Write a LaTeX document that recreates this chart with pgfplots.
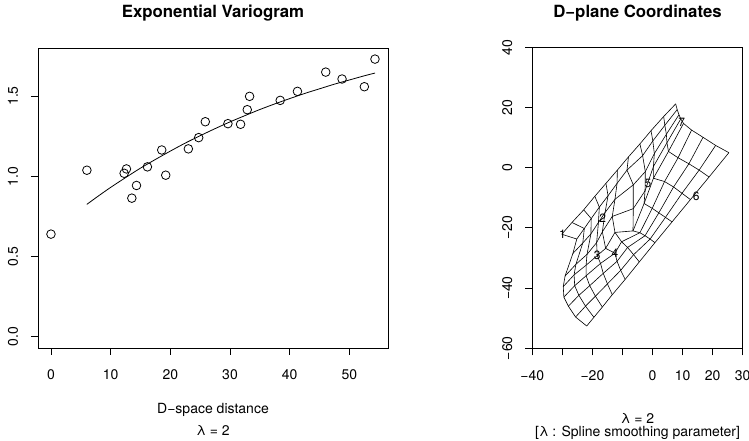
\documentclass[border=0pt]{standalone}
\usepackage{fontspec}
\setmainfont{TeX Gyre Heros}
\usepackage{pgfplots}
\pgfplotsset{compat=1.18}
\begin{document}
\begin{tikzpicture}[font=\fontsize{14}{17}\selectfont]
\pgfplotsset{
  rstyle/.style={
    scale only axis, anchor=south west,
    axis line style={line width=0.8pt},
    tick align=outside, major tick length=7pt, tick pos=left,
    tick style={black, line width=0.8pt},
    yticklabel style={xshift=-18pt, rotate=90, anchor=center},
    xticklabel style={anchor=center, yshift=-20pt},
  },
  ml/.style={black, solid, no marks, line width=0.6pt},
}
% ---------------- left panel ----------------
\begin{axis}[rstyle,
  at={(38pt,93pt)}, width=350pt, height=300pt,
  xmin=-2.172, xmax=56.472, ymin=-0.0692, ymax=1.7992,
  xtick={0,10,20,30,40,50}, xticklabels={0,10,20,30,40,50},
  ytick={0,0.5,1,1.5}, yticklabels={0.0,0.5,1.0,1.5},
]
\addplot[only marks, mark=o, mark size=4.3pt, mark options={line width=0.8pt}, black] coordinates {
(0.00,0.640) (6.02,1.038) (12.26,1.019) (12.65,1.046) (13.55,0.864) (14.33,0.943)
(16.16,1.059) (18.56,1.164) (19.23,1.007) (23.02,1.171) (24.75,1.241) (25.86,1.340)
(29.65,1.328) (31.77,1.324) (32.89,1.415) (33.28,1.498) (38.41,1.473) (41.30,1.529)
(46.04,1.649) (48.77,1.606) (52.51,1.558) (54.29,1.730)
};
\addplot[no marks, black, line width=0.8pt, smooth] coordinates {
(6,0.825) (8,0.879) (10,0.931) (12.5,0.992) (15,1.051) (17.5,1.105) (20,1.157)
(22.5,1.207) (25,1.253) (27.5,1.297) (30,1.339) (32.5,1.378) (35,1.416)
(37.5,1.451) (40,1.484) (42.5,1.516) (45,1.545) (47.5,1.574) (50,1.600)
(52.5,1.626) (54.3,1.643)
};
\end{axis}
% ---------------- right panel ----------------
\begin{axis}[rstyle,
  at={(532.3pt,92.7pt)}, width=210.4pt, height=301pt,
  xmin=-40, xmax=30, ymin=-60, ymax=40,
  xtick={-40,-30,-20,-10,0,10,20,30}, xticklabels={−40,,−20,,0,10,20,30},
  ytick={-60,-40,-20,0,20,40}, yticklabels={−60,−40,−20,0,20,40},
]
% family B lines
\addplot[ml] coordinates {(-30.2,-22.1) (-25.2,-23.7) (-26.5,-28.5) (-29.1,-36.0) (-29.7,-39.5) (-29.5,-43.0) (-28.0,-46.0) (-25.6,-49.6) (-21.9,-52.6)};
\addplot[ml] coordinates {(-26.8,-18.2) (-22.7,-20.2) (-23.2,-25.0) (-25.5,-32.1) (-26.1,-35.6) (-25.9,-39.2) (-24.5,-42.4) (-22.3,-46.0) (-19.5,-49.7)};
\addplot[ml] coordinates {(-22.9,-14.0) (-20.4,-16.9) (-20.5,-22.0) (-21.8,-28.8) (-22.1,-32.4) (-22.1,-35.9) (-20.9,-39.2) (-19.0,-42.7) (-16.7,-46.3)};
\addplot[ml] coordinates {(-19.2,-9.5) (-17.7,-13.1) (-18.0,-18.2) (-18.6,-24.9) (-18.4,-29.2) (-17.3,-31.8) (-16.4,-35.1) (-15.0,-38.6) (-13.4,-42.2)};
\addplot[ml] coordinates {(-15.5,-5.2) (-14.8,-9.3) (-15.8,-14.9) (-16.7,-21.3) (-15.6,-26.8) (-12.5,-28.4) (-11.8,-31.1) (-10.6,-34.1) (-9.1,-37.1)};
\addplot[ml] coordinates {(-11.7,-0.8) (-11.8,-5.2) (-12.5,-10.5) (-13.4,-16.2) (-12.5,-21.5) (-10.3,-24.6) (-8.3,-26.5) (-6.3,-28.9) (-4.4,-31.3)};
\addplot[ml] coordinates {(-8.0,3.6) (-8.5,-0.8) (-6.4,-5.7) (-6.4,-13.6) (-6.5,-21.0) (-4.2,-21.6) (-2.5,-22.6) (-0.8,-23.7) (0.8,-24.9)};
\addplot[ml] coordinates {(-4.2,7.9) (-3.3,4.0) (-2.4,-1.3) (-2.5,-7.7) (-2.8,-11.9) (-0.1,-13.5) (2.1,-15.0) (4.3,-16.5) (6.5,-18.0)};
\addplot[ml] coordinates {(-0.5,12.3) (0.1,8.9) (0.6,4.7) (0.3,0.4) (0.3,-3.5) (4.0,-4.6) (7.0,-6.4) (9.8,-8.5) (12.6,-10.6)};
\addplot[ml] coordinates {(3.7,17.0) (4.1,14.1) (4.6,11.1) (4.8,8.3) (5.3,5.4) (8.5,3.3) (12.1,1.3) (15.5,-0.8) (18.8,-3.1)};
\addplot[ml] coordinates {(7.7,21.2) (8.2,19.3) (8.8,17.6) (9.4,16.2) (10.3,14.7) (13.0,12.5) (16.8,10.1) (21.0,7.4) (25.4,5.0)};
% family A lines
\addplot[ml] coordinates {(-30.2,-22.1) (-26.8,-18.2) (-22.9,-14.0) (-19.2,-9.5) (-15.5,-5.2) (-11.7,-0.8) (-8.0,3.6) (-4.2,7.9) (-0.5,12.3) (3.7,17.0) (7.7,21.2)};
\addplot[ml] coordinates {(-25.2,-23.7) (-22.7,-20.2) (-20.4,-16.9) (-17.7,-13.1) (-14.8,-9.3) (-11.8,-5.2) (-8.5,-0.8) (-3.3,4.0) (0.1,8.9) (4.1,14.1) (8.2,19.3)};
\addplot[ml] coordinates {(-26.5,-28.5) (-23.2,-25.0) (-20.5,-22.0) (-18.0,-18.2) (-15.8,-14.9) (-12.5,-10.5) (-6.4,-5.7) (-2.4,-1.3) (0.6,4.7) (4.6,11.1) (8.8,17.6)};
\addplot[ml] coordinates {(-29.1,-36.0) (-25.5,-32.1) (-21.8,-28.8) (-18.6,-24.9) (-16.7,-21.3) (-13.4,-16.2) (-6.4,-13.6) (-2.5,-7.7) (0.3,0.4) (4.8,8.3) (9.4,16.2)};
\addplot[ml] coordinates {(-29.7,-39.5) (-26.1,-35.6) (-22.1,-32.4) (-18.4,-29.2) (-15.6,-26.8) (-12.5,-21.5) (-6.5,-21.0) (-2.8,-11.9) (0.3,-3.5) (5.3,5.4) (10.3,14.7)};
\addplot[ml] coordinates {(-29.5,-43.0) (-25.9,-39.2) (-22.1,-35.9) (-17.3,-31.8) (-12.5,-28.4) (-10.3,-24.6) (-4.2,-21.6) (-0.1,-13.5) (4.0,-4.6) (8.5,3.3) (13.0,12.5)};
\addplot[ml] coordinates {(-28.0,-46.0) (-24.5,-42.4) (-20.9,-39.2) (-16.4,-35.1) (-11.8,-31.1) (-8.3,-26.5) (-2.5,-22.6) (2.1,-15.0) (7.0,-6.4) (12.1,1.3) (16.8,10.1)};
\addplot[ml] coordinates {(-25.6,-49.6) (-22.3,-46.0) (-19.0,-42.7) (-15.0,-38.6) (-10.6,-34.1) (-6.3,-28.9) (-0.8,-23.7) (4.3,-16.5) (9.8,-8.5) (15.5,-0.8) (21.0,7.4)};
\addplot[ml] coordinates {(-21.9,-52.6) (-19.5,-49.7) (-16.7,-46.3) (-13.4,-42.2) (-9.1,-37.1) (-4.4,-31.3) (0.8,-24.9) (6.5,-18.0) (12.6,-10.6) (18.8,-3.1) (25.4,5.0)};
% station labels
\begin{scope}[every node/.style={font=\fontsize{12}{14}\selectfont, inner sep=0pt}]
\node at (axis cs:-30.0,-22.0) {1};
\node at (axis cs:-16.6,-16.8) {2};
\node at (axis cs:-18.4,-29.2) {3};
\node at (axis cs:-12.5,-28.4) {4};
\node at (axis cs:-1.5,-5.1) {5};
\node at (axis cs:14.5,-9.6) {6};
\node at (axis cs:9.7,15.2) {7};
\end{scope}
\end{axis}
% titles and labels
\node[font=\fontsize{16.8}{20}\selectfont\bfseries] at (213pt,428.3pt) {Exponential Variogram};
\node[font=\fontsize{16.8}{20}\selectfont\bfseries] at (637.5pt,428.3pt) {D−plane Coordinates};
\node at (213pt,31pt) {D−space distance};
\node at (213pt,11pt) {λ = 2};
\node[inner sep=0.5pt] at (637.5pt,23pt) {λ = 2};
\node[inner sep=0.5pt] at (637.5pt,8pt) {[λ : Spline smoothing parameter]};
\pgfresetboundingbox
\path[use as bounding box] (0,0) rectangle (749pt,441pt);
\end{tikzpicture}
\end{document}
